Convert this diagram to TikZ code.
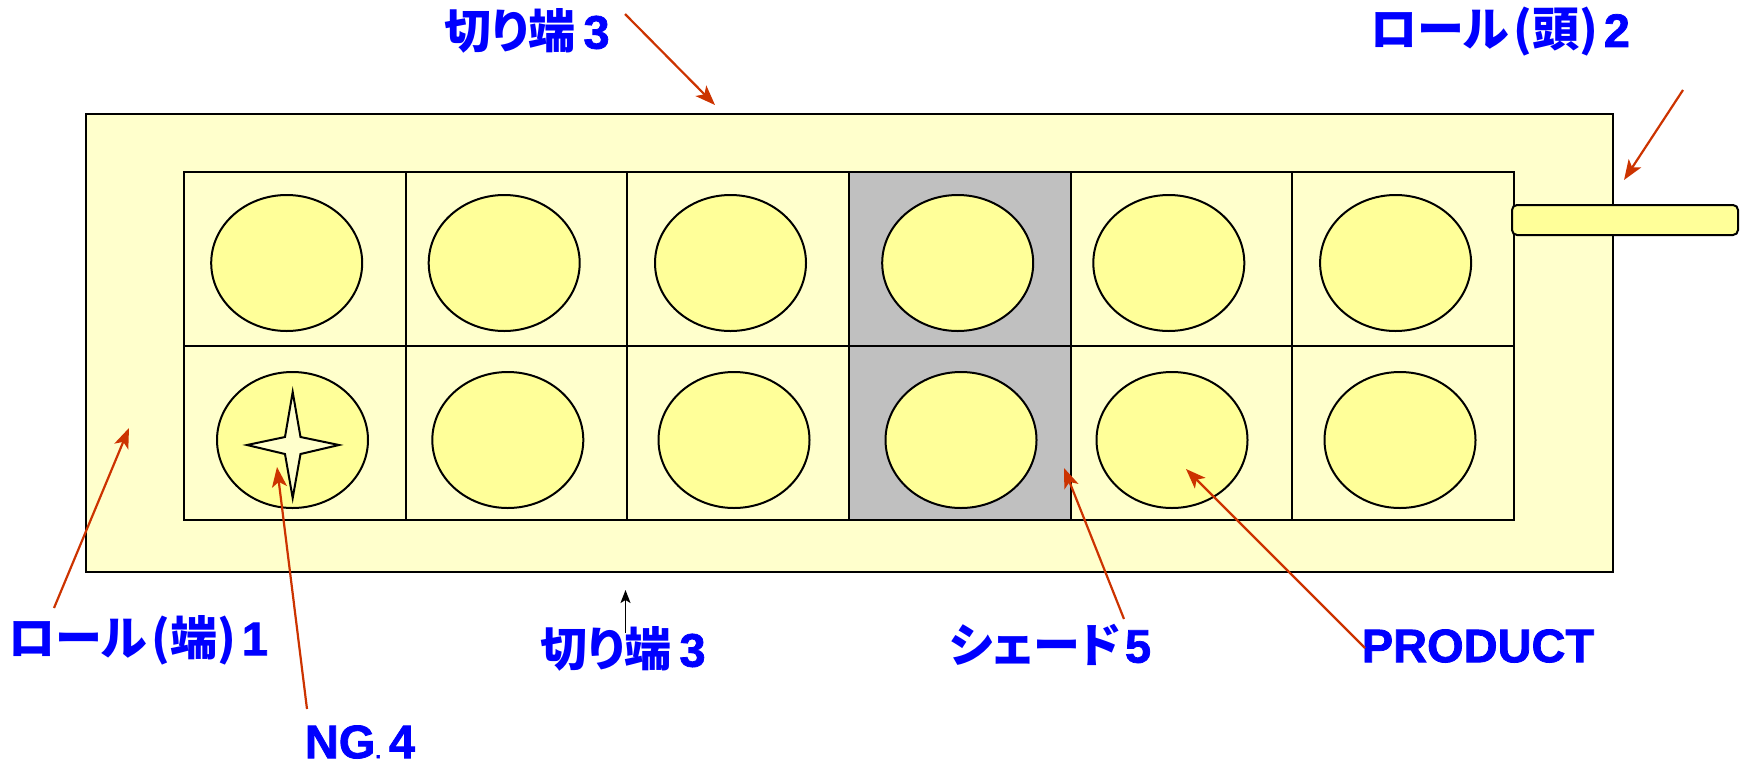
\documentclass[tikz,border=0pt]{standalone}
\usepackage{fontspec}
\usetikzlibrary{shapes.geometric,arrows.meta}
\setmainfont{Liberation Sans}[BoldFont={Liberation Sans Bold}]
\newfontfamily\latb{Liberation Sans Bold}[FakeBold=1.6]
\newfontfamily\jpf{Noto Sans CJK JP}[RawFeature=+palt]
\definecolor{bgyel}{HTML}{FFFFCC}
\definecolor{disk}{HTML}{FFFF99}
\definecolor{shade}{HTML}{C0C0C0}
\definecolor{lblue}{HTML}{0000FF}
\definecolor{arred}{HTML}{CC3300}
\tikzset{
  cell/.style={draw, line width=2pt, fill=bgyel, minimum width=221.67pt, minimum height=174pt, inner sep=0pt, outer sep=0pt},
  disc/.style={ellipse, draw, line width=2pt, fill=disk, minimum width=151pt, minimum height=136pt, inner sep=0pt},
  lbl/.style={text=lblue, font=\fontsize{47}{47}\selectfont\latb, inner sep=0pt},
  redarrow/.style={draw=arred, line width=2.2pt, -{Stealth[length=20pt,width=15pt,inset=5pt]}},
  blackarrow/.style={draw=black, line width=1.5pt, -{Stealth[length=13pt,width=10pt,inset=3pt]}}
}
\begin{document}
\begin{tikzpicture}[x=1pt,y=-1pt]
\useasboundingbox (0,0) rectangle (1742,766);
% outer sheet
\node[draw, line width=2.5pt, fill=bgyel, minimum width=1527pt, minimum height=458pt, inner sep=0pt] (outer) at (849.5,343) {};
% grid cells
\foreach \c/\x in {1/294.83,2/516.5,3/738.17,5/1181.5,6/1403.17}{
  \node[cell] (r1c\c) at (\x,259) {};
  \node[cell] (r2c\c) at (\x,433) {};
}
\node[cell, fill=shade] (r1c4) at (959.83,259) {};
\node[cell, fill=shade] (r2c4) at (959.83,433) {};
% discs
\foreach \n/\x in {1/286.7,2/504.2,3/730.5,4/957.7,5/1168.8,6/1395.6}{
  \node[disc] (d1\n) at (\x,263) {};
}
\foreach \n/\x in {1/292.5,2/507.8,3/734,4/961,5/1172,6/1400}{
  \node[disc] (d2\n) at (\x,440) {};
}
% NG star
\draw[line width=2pt, fill=bgyel, line join=miter] (292.7,392) -- (300.5,437) -- (339,445) -- (300.5,454) -- (292.7,498) -- (285,454) -- (247,445) -- (285,437) -- cycle;
% roll tab
\node[draw, line width=2pt, fill=disk, rounded corners=5pt, minimum width=226pt, minimum height=30pt, inner sep=0pt] (tab) at (1625,220) {};
% labels
\node[lbl] (cuttop) at (527,31) {{\jpf\bfseries 切り端}\kern8pt 3};
\node[lbl] (rollhead) at (1500,32) {{\jpf\bfseries ロール\kern4pt(頭)}\kern6pt 2};
\node[lbl] (rollend) at (138,640) {{\jpf\bfseries ロール\kern4pt(端)}\kern6pt 1};
\node[lbl] (ng) at (360,742) {NG{\fontsize{20}{20}\selectfont.}\kern8pt 4};
\node[lbl] (cutbot) at (623,649) {{\jpf\bfseries 切り端}\kern8pt 3};
\node[lbl] (shd) at (1050,645) {{\jpf\bfseries シェード}\kern4pt 5};
\node[lbl] (prod) at (1478,646) {PRODUCT};
% arrow ends
\coordinate (a1s) at (625,14);   \coordinate (a1e) at (715,105);
\coordinate (a2s) at (1683,90);  \coordinate (a2e) at (1624,180);
\coordinate (a3s) at (54,608);   \coordinate (a3e) at (129,428);
\coordinate (a4s) at (307,709);  \coordinate (a4e) at (277,467);
\coordinate (a5s) at (625.5,633);\coordinate (a5e) at (625.5,590);
\coordinate (a6s) at (1124,619); \coordinate (a6e) at (1064,468);
\coordinate (a7s) at (1365,648); \coordinate (a7e) at (1186,469);
\draw[redarrow] (a1s) -- (a1e);
\draw[redarrow] (a2s) -- (a2e);
\draw[redarrow] (a3s) -- (a3e);
\draw[redarrow] (a4s) -- (a4e);
\draw[blackarrow] (a5s) -- (a5e);
\draw[redarrow] (a6s) -- (a6e);
\draw[redarrow] (a7s) -- (a7e);
\end{tikzpicture}
\end{document}
